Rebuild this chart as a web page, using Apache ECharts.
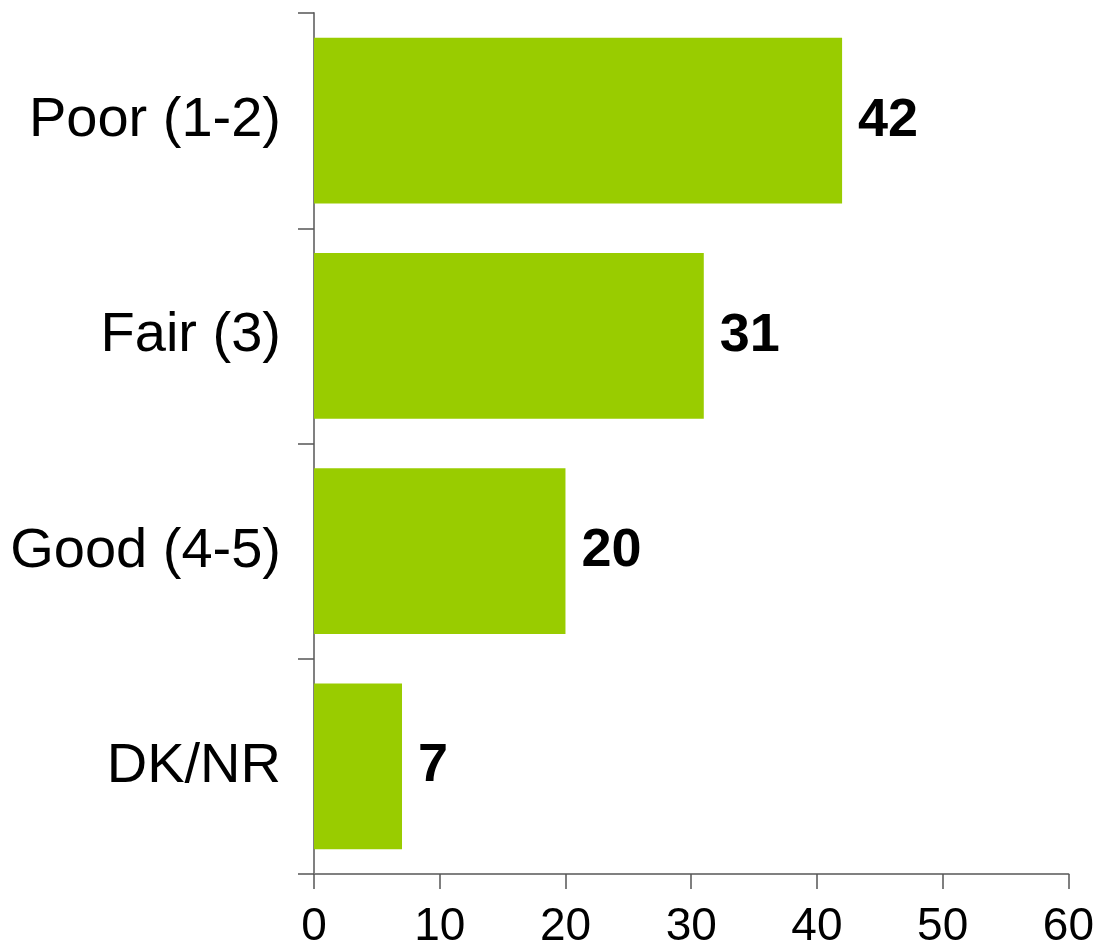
<!DOCTYPE html>
<html>
<head>
<meta charset="utf-8">
<script src="https://cdn.jsdelivr.net/npm/echarts@6/dist/echarts.min.js"></script>
<style>
  html, body { margin: 0; padding: 0; background: #fff; }
  #chart { width: 1097px; height: 950px; }
</style>
</head>
<body>
<div id="chart"></div>
<script>
var categories = ["Poor (1-2)", "Fair (3)", "Good (4-5)", "DK/NR"];
var values = [42, 31, 20, 7];
var xTicks = [0, 60, 10];

var myChart = echarts.init(document.getElementById("chart"));
var option = {
  animation: false,
  grid: { left: 314, right: 28, top: 13, bottom: 74 },
  xAxis: {
    type: "value",
    min: xTicks[0],
    max: xTicks[1],
    interval: xTicks[2],
    splitLine: { show: false },
    axisLine: { show: true, lineStyle: { color: "#808080", width: 2 } },
    axisTick: { show: true, length: 15, lineStyle: { color: "#555", width: 1.5 } },
    axisLabel: {
      margin: 30,
      fontFamily: "Liberation Sans",
      fontSize: 46,
      color: "#000"
    }
  },
  yAxis: {
    type: "category",
    data: categories,
    inverse: true,
    axisLine: { show: true, lineStyle: { color: "#808080", width: 2 } },
    axisTick: { show: true, length: 16, lineStyle: { color: "#555", width: 1.5 } },
    axisLabel: {
      margin: 33,
      fontFamily: "Liberation Sans",
      fontSize: 56,
      color: "#000"
    }
  },
  series: [
    {
      type: "bar",
      data: values,
      barCategoryGap: "23%",
      itemStyle: { color: "#99CC00" },
      label: {
        show: true,
        position: "right",
        distance: 16,
        fontFamily: "Liberation Sans",
        fontWeight: "bold",
        fontSize: 54,
        color: "#000"
      }
    }
  ]
};
myChart.setOption(option);
</script>
</body>
</html>
